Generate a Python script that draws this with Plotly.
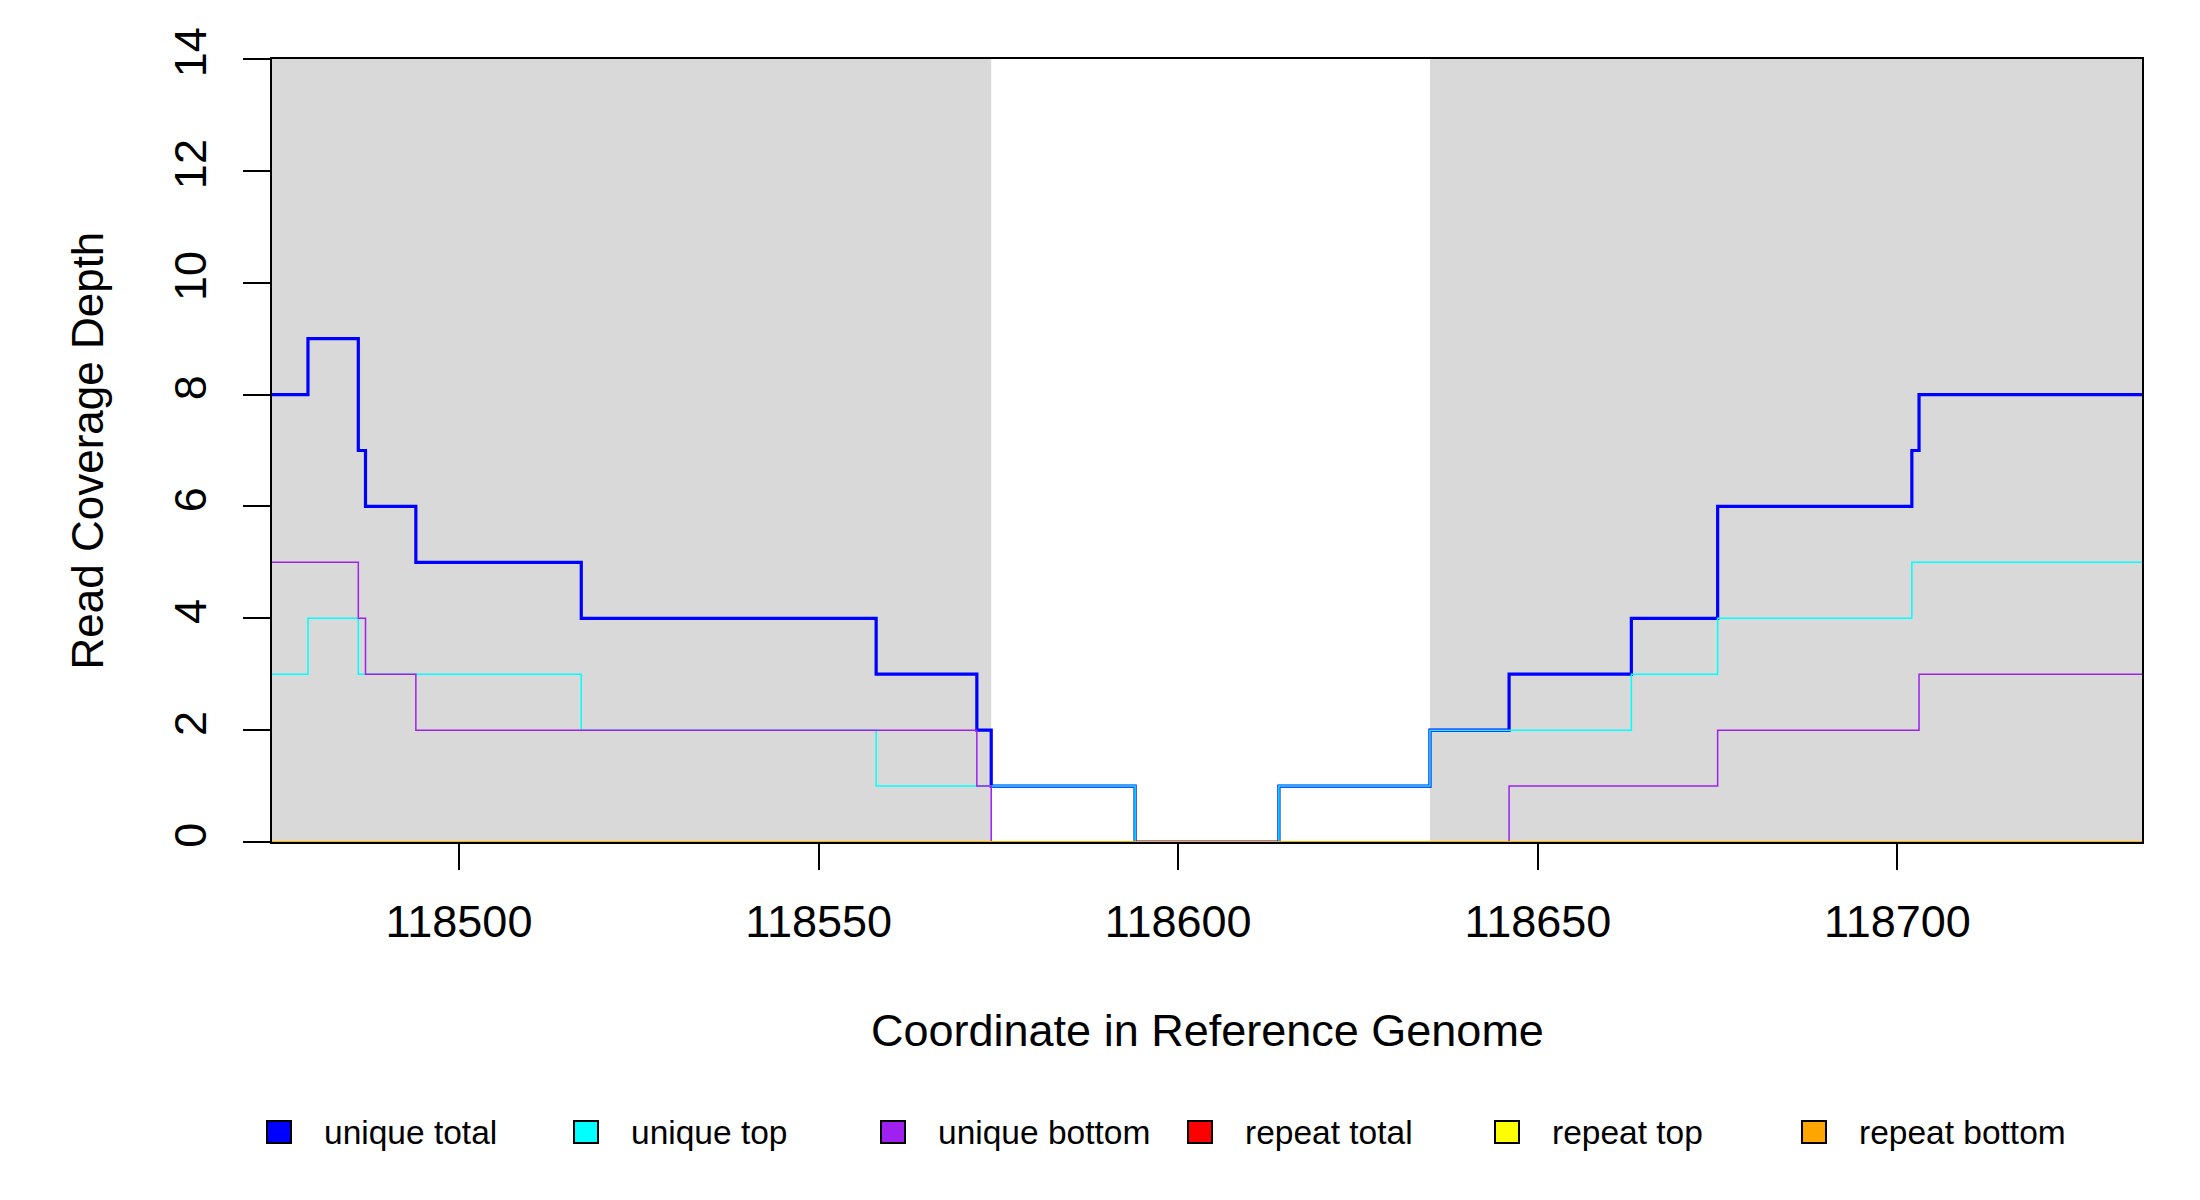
import plotly.graph_objects as go

# coverage steps (value holds from each position to the next)
pos = [118474, 118479, 118486, 118487, 118494, 118517, 118558, 118572, 118574,
       118594, 118614, 118635, 118646, 118663, 118675, 118702, 118703, 118734]
unique_total = [8, 9, 7, 6, 5, 4, 3, 2, 1, 0, 1, 2, 3, 4, 6, 7, 8, 8]
unique_top = [3, 4, 3, 3, 3, 2, 1, 1, 1, 0, 1, 2, 2, 3, 4, 5, 5, 5]
unique_bottom = [5, 5, 4, 3, 2, 2, 2, 1, 0, 0, 0, 0, 1, 1, 2, 2, 3, 3]
repeat_total = [0, 0, 0, 0, 0, 0, 0, 0, 0, 0, 0, 0, 0, 0, 0, 0, 0, 0]
repeat_top = [0, 0, 0, 0, 0, 0, 0, 0, 0, 0, 0, 0, 0, 0, 0, 0, 0, 0]
repeat_bottom = [0, 0, 0, 0, 0, 0, 0, 0, 0, 0, 0, 0, 0, 0, 0, 0, 0, 0]

names = ['unique total', 'unique top', 'unique bottom',
         'repeat total', 'repeat top', 'repeat bottom']
series = [unique_total, unique_top, unique_bottom,
          repeat_total, repeat_top, repeat_bottom]
colors = ['#0000FF', '#00FFFF', '#A020F0', '#FF0000', '#FFFF00', '#FFA500']
widths = [3.2, 1.5, 1.5, 1.5, 1.5, 1.5]

# flanking regions shaded grey
flanks = [(118474, 118574), (118635, 118734)]
xticks = [118500, 118550, 118600, 118650, 118700]

W, H = 2200, 1200
L, R, T, B = 264, 66, 51, 366
pw, ph = W - L - R, H - T - B

def px(x):
    return (x - L) / pw

def py(y):
    return (H - B - y) / ph

FONT = 'Liberation Sans, Arial, sans-serif'

fig = go.Figure()

for name, ys, c, w in zip(names, series, colors, widths):
    fig.add_trace(go.Scatter(
        x=pos, y=ys, name=name, mode='lines',
        line={'color': c, 'width': w, 'shape': 'hv'},
        showlegend=False))

shapes = []
for a, b in flanks:
    shapes.append(dict(type='rect', xref='x', yref='y', x0=a, x1=b, y0=0, y1=14,
                       fillcolor='#D9D9D9', line={'width': 0}, layer='below'))

annotations = []
# legend along the bottom
for i, (name, c) in enumerate(zip(names, colors)):
    cx = 271 + 307 * i
    cy = 1124
    shapes.append(dict(type='rect', xref='paper', yref='paper',
                       x0=px(cx - 12), x1=px(cx + 12),
                       y0=py(cy + 11), y1=py(cy - 11),
                       fillcolor=c, line={'color': 'black', 'width': 2}))
    annotations.append(dict(text=name, xref='paper', yref='paper',
                            x=px(cx + 43), y=py(cy), xanchor='left', yanchor='middle',
                            showarrow=False, font={'size': 33.5, 'color': 'black', 'family': FONT}))

annotations.append(dict(text='Coordinate in Reference Genome', xref='paper', yref='paper',
                        x=0.5, y=py(1022), xanchor='center', yanchor='middle',
                        showarrow=False, font={'size': 45, 'color': 'black', 'family': FONT}))
annotations.append(dict(text='Read Coverage Depth', xref='paper', yref='paper',
                        x=px(79), y=0.5, xanchor='center', yanchor='middle', textangle=-90,
                        showarrow=False, font={'size': 44, 'color': 'black', 'family': FONT}))

fig.update_layout(
    width=W, height=H,
    margin={'l': L, 'r': R, 't': T, 'b': B},
    plot_bgcolor='white', paper_bgcolor='white',
    font={'family': FONT, 'color': 'black'},
    shapes=shapes, annotations=annotations,
    xaxis=dict(range=[pos[0], pos[-1]], tickvals=xticks, tickformat='d',
               ticks='outside', ticklen=26, tickwidth=2, tickcolor='black',
               showgrid=False, zeroline=False, showline=True, mirror=True,
               linecolor='black', linewidth=1.5, ticklabelstandoff=13,
               layer='below traces',
               tickfont={'size': 45, 'family': FONT}),
    yaxis=dict(range=[0, 14], tick0=0, dtick=2,
               ticks='outside', ticklen=27, tickwidth=2, tickcolor='black',
               showgrid=False, zeroline=False, showline=True, mirror=True,
               linecolor='black', linewidth=1.5, tickangle=-90, ticklabelstandoff=19,
               layer='below traces',
               tickfont={'size': 45, 'family': FONT}),
)

fig.write_html("out.html")
